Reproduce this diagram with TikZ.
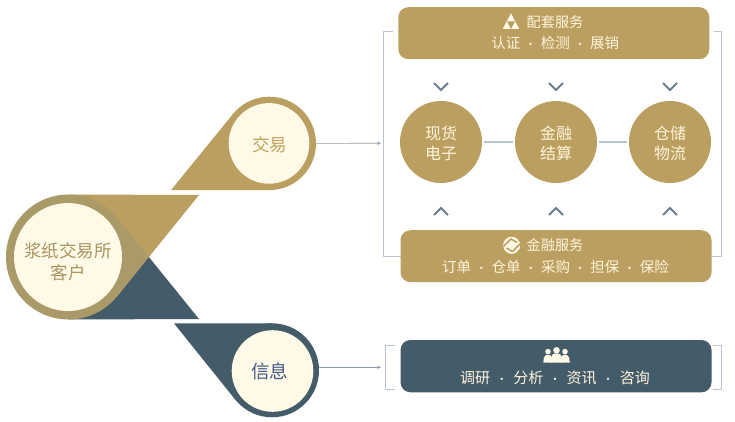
\documentclass[tikz,border=0pt]{standalone}
\usepackage{fontspec}
\setmainfont{Noto Sans CJK SC}
\usetikzlibrary{calc,arrows.meta}
\definecolor{goldc}{HTML}{BB9F60}
\definecolor{bluec}{HTML}{445B69}
\definecolor{creamc}{HTML}{FFF9E8}
\definecolor{blendc}{HTML}{AA9A68}
\definecolor{linec}{HTML}{B8C3CF}
\definecolor{chevc}{HTML}{6A7E8D}
\definecolor{arrowc}{HTML}{8F9BA8}
\definecolor{bodytxt}{HTML}{A8945F}
\definecolor{tradetxt}{HTML}{C0A25F}
\definecolor{infotxt}{HTML}{3F5A85}
\definecolor{lighttxt}{HTML}{FFF4DC}
\newcommand{\fs}[1]{\fontsize{#1}{#1}\selectfont}
\newcommand{\gapdot}[1]{\kern#1pt{\fontsize{11}{11}\selectfont ·}\kern#1pt}
\tikzset{
  x=1pt,y=-1pt,
  disc/.style={circle,inner sep=0pt,outer sep=0pt,minimum size=#1},
  panel/.style={rounded corners=10pt,inner sep=0pt,outer sep=0pt,anchor=north west},
  lighttext/.style={text=lighttxt,inner sep=0pt},
  bracketline/.style={draw=linec,line width=0.9pt},
  chev/.style={draw=chevc,line width=2pt,line cap=butt},
  feed/.style={draw=arrowc,line width=0.7pt,-{Stealth[length=4pt,width=3.4pt]}},
  joinline/.style={draw=linec,line width=1.4pt,shorten <=2pt,shorten >=2pt},
  circletext/.style={inner sep=0pt,text=lighttxt,align=center,font=\fontsize{16}{20}\selectfont},
}
\begin{document}
\begin{tikzpicture}
\useasboundingbox (0,0) rectangle (735,422);

% brackets
\draw[bracketline] (393,31) -- (383.5,31) -- (383.5,256.5) -- (402,256.5);
\draw[bracketline] (714,31) -- (721.7,31) -- (721.7,256.5) -- (708,256.5);
\draw[bracketline] (395,345.7) -- (385.7,345.7) -- (385.7,389) -- (395,389);
\draw[bracketline] (713.3,345.7) -- (721.3,345.7) -- (721.3,389) -- (713.3,389);

% central teardrops
\node[disc=125pt] (mc) at (68.5,257) {};
\coordinate (ga) at (199,195);
\coordinate (ba) at (199,319);
\coordinate (gt) at (tangent cs:node=mc,point={(ga)},solution=2);
\coordinate (bt) at (tangent cs:node=mc,point={(ba)},solution=1);
\coordinate (gtop) at (68.5,194.5);
\coordinate (bbot) at (68.5,319.5);
\coordinate (mx) at (148.5,257);
\fill[bluec] (mc.center) -- (bbot) -- (ba) -- (bt) -- cycle;
\fill[goldc] (mc.center) -- (gtop) -- (ga) -- (gt) -- cycle;
\fill[blendc] (mc.center) circle[radius=62.5];
\fill[blendc] (mc.center) -- (gt) -- (mx) -- (bt) -- cycle;
\node[disc=108pt,fill=creamc] (mi) at (68,257) {};
\node[inner sep=0pt,text=bodytxt,align=center,font=\fontsize{17.5}{22.5}\selectfont] (mt) at (68,262) {浆纸交易所\\客户};

% trade teardrop
\node[disc=93.4pt,fill=goldc] (tc) at (269.3,143.4) {};
\coordinate (tt) at (171,190.1);
\fill[goldc] (tc.center) -- (tangent cs:node=tc,point={(tt)},solution=1) -- (tt) -- (tangent cs:node=tc,point={(tt)},solution=2) -- cycle;
\node[disc=80.6pt,fill=creamc] (ti) at (269,143.4) {};
\node[inner sep=0pt,text=tradetxt,font=\fs{17.5}] (tl) at (269.5,144.5) {交易};

% info teardrop
\node[disc=94pt,fill=bluec] (ic) at (272,370.3) {};
\coordinate (it) at (174,323.4);
\fill[bluec] (ic.center) -- (tangent cs:node=ic,point={(it)},solution=1) -- (it) -- (tangent cs:node=ic,point={(it)},solution=2) -- cycle;
\node[disc=81.6pt,fill=creamc] (ii) at (272.5,371) {};
\node[inner sep=0pt,text=infotxt,font=\fs{18.5}] (il) at (269.5,371) {信息};

% panels
\node[panel,fill=goldc,minimum width=311pt,minimum height=52pt] (p1) at (398.3,7.2) {};
\node[panel,fill=goldc,minimum width=311pt,minimum height=52pt] (p2) at (400.5,230.2) {};
\node[panel,fill=bluec,minimum width=311pt,minimum height=52.3pt] (p3) at (400.5,340) {};

\node[lighttext,font=\fs{14.2}] (p1a) at (555,22) {配套服务};
\node[lighttext,font=\fs{14.5}] (p1b) at (555.3,43.3) {认证\gapdot{4.7}检测\gapdot{4.7}展销};
\node[lighttext,font=\fs{14.2}] (p2a) at (555,245) {金融服务};
\node[lighttext,font=\fs{14.5}] (p2b) at (555.5,267) {订单\gapdot{4.7}仓单\gapdot{4.7}采购\gapdot{4.7}担保\gapdot{4.7}保险};
\node[lighttext,font=\fs{15}] (p3b) at (555,378) {调研\gapdot{6.1}分析\gapdot{6.1}资讯\gapdot{6.1}咨询};

% icon: triangles
\fill[creamc] (511,13.3) -- (519.3,29) -- (502.7,29) -- cycle;
\fill[goldc] (507,21.3) -- (515,21.3) -- (511,29) -- cycle;

% icon: disc
\begin{scope}
\clip (511.7,245.3) circle[radius=8.6];
\fill[creamc] (511.7,245.3) circle[radius=8.6];
\draw[goldc,line width=1.5pt] (503,247) -- (511,239) -- (517,242.5);
\draw[goldc,line width=1.5pt] (520.5,243.5) -- (512.5,251.5) -- (506.5,248);
\end{scope}

% icon: people
\fill[creamc] (548,351.6) circle[radius=2.8];
\fill[creamc] (565,351.6) circle[radius=2.8];
\fill[creamc] (543.3,362.7) -- (543.8,358) .. controls (544.3,353.6) and (551.7,353.6) .. (552.2,358) -- (552.2,362.7) -- cycle;
\fill[creamc] (560.8,362.7) -- (560.8,358) .. controls (561.3,353.6) and (568.7,353.6) .. (569.2,358) -- (569.8,362.7) -- cycle;
\fill[creamc] (556.5,350.3) circle[radius=3.3];
\fill[creamc] (550.8,362.7) -- (551.2,357) .. controls (551.7,352) and (561.3,352) .. (561.8,357) -- (562.2,362.7) -- cycle;

% circles
\node[disc=82pt,fill=goldc] (c1) at (441,142) {};
\node[disc=82pt,fill=goldc] (c2) at (556,142) {};
\node[disc=82pt,fill=goldc] (c3) at (670,142) {};
\node[circletext] (t1) at (441,143) {现货\\电子};
\node[circletext] (t2) at (556,143) {金融\\结算};
\node[circletext] (t3) at (670,143) {仓储\\物流};
\draw[joinline] (c1) -- (c2);
\draw[joinline] (c2) -- (c3);

% feeds
\coordinate (f1) at (381,143.3);
\coordinate (f2) at (381,367.3);
\draw[feed] (tc.east) -- (f1);
\draw[feed] (ic.east |- f2) -- (f2);

% chevrons
\foreach \cx in {441,556,670}{
  \draw[chev] (\cx-7,83) -- (\cx,90) -- (\cx+7,83);
  \draw[chev] (\cx-7,215) -- (\cx,208) -- (\cx+7,215);
}
\end{tikzpicture}
\end{document}
